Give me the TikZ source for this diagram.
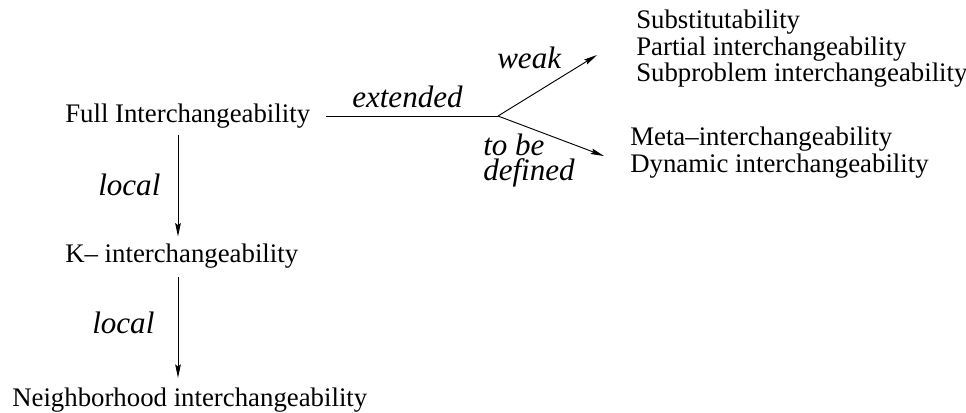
\documentclass[tikz,border=0pt]{standalone}
\usepackage{fontspec}
\setmainfont{Liberation Serif}
\newfontfamily\labelfont{Liberation Serif Italic}
\usetikzlibrary{arrows.meta}
\begin{document}
\begin{tikzpicture}[x=0.75pt,y=-0.75pt,
  txt/.style={inner sep=0pt,anchor=base west,font=\fontsize{20.1}{24}\selectfont},
  lbl/.style={inner sep=0pt,anchor=base west,font=\labelfont\fontsize{23.3}{28}\selectfont},
  conn/.style={line width=0.7pt},
  arr/.style={conn,-{Stealth[length=10pt,width=4.2pt,inset=1.5pt]}}]
\useasboundingbox (0,0) rectangle (966,412);
% nodes
\node[txt] (full) at (65,122) {Full Interchangeability};
\node[txt] (k) at (65,262) {K-- interchangeability};
\node[txt] (nb) at (12,406) {Neighborhood interchangeability};
\node[txt] (sub) at (636,28) {Substitutability};
\node[txt] (part) at (636,55) {Partial interchangeability};
\node[txt] (subp) at (636,81) {Subproblem interchangeability};
\node[txt] (meta) at (630,145) {Meta--interchangeability};
\node[txt] (dyn) at (630,172) {Dynamic interchangeability};
% labels
\node[lbl] (lext) at (352,107) {extended};
\node[lbl] (lweak) at (497,68) {weak};
\node[lbl] (ltb) at (483,155) {to be};
\node[lbl] (ldef) at (483,180) {defined};
\node[lbl] (lloc1) at (98,195) {local};
\node[lbl] (lloc2) at (92,333) {local};
% coordinates
\coordinate (br) at (498,116);
\coordinate (tipw) at (597,55);
\coordinate (tipd) at (604,156);
\coordinate (vx) at (178,0);
% connectors
\draw[conn,shorten <=12pt] (full.east |- br) -- (br);
\draw[arr] (br) -- (tipw);
\draw[arr] (br) -- (tipd);
\draw[arr,shorten <=5pt,shorten >=5pt] (full.south -| vx) -- (k.north -| vx);
\draw[arr,shorten <=7pt,shorten >=7pt] (k.south -| vx) -- (nb.north -| vx);
\end{tikzpicture}
\end{document}
